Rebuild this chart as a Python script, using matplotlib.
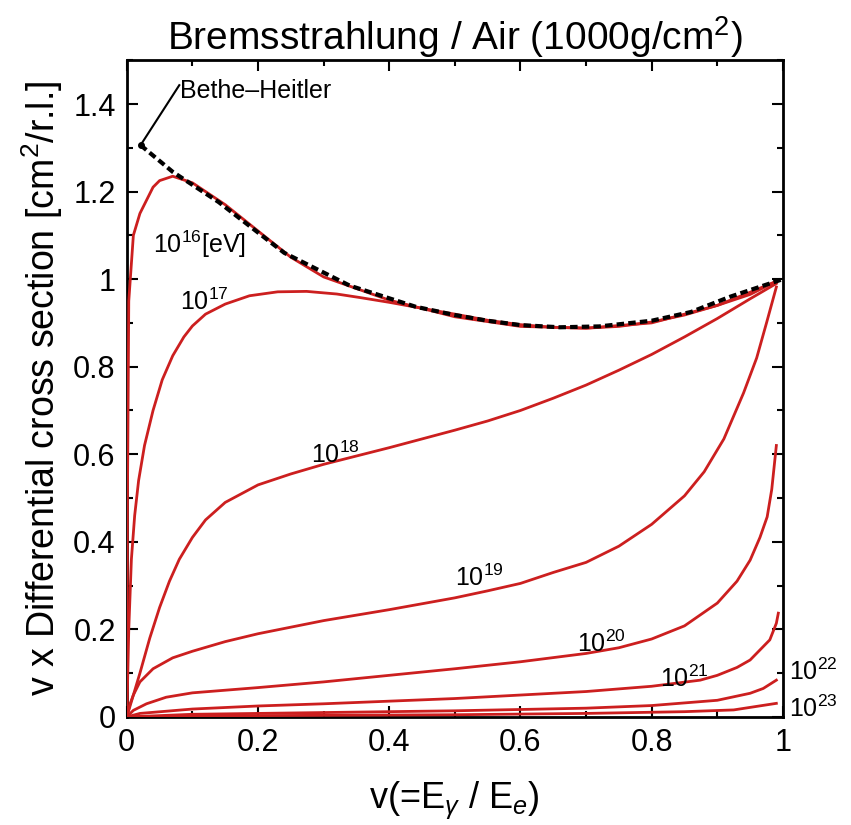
import matplotlib
matplotlib.use("Agg")
import matplotlib.pyplot as plt
from matplotlib.ticker import MultipleLocator

plt.rcParams['font.family'] = ['Liberation Sans', 'DejaVu Sans']
plt.rcParams['mathtext.fontset'] = 'custom'
plt.rcParams['mathtext.rm'] = 'Liberation Sans'
plt.rcParams['mathtext.it'] = 'Liberation Sans:italic'
plt.rcParams['mathtext.bf'] = 'Liberation Sans:bold'

# ---- data ----
bh_x = [0.021, 0.07, 0.14, 0.24, 0.34, 0.44, 0.50, 0.55, 0.60, 0.66, 0.72, 0.80, 0.86, 0.92, 0.96, 1.0]
bh_y = [1.306, 1.245, 1.176, 1.06, 0.985, 0.937, 0.918, 0.905, 0.895, 0.89, 0.892, 0.905, 0.925, 0.96, 0.98, 1.0]

e16_x = [0.0, 0.001, 0.003, 0.01, 0.02, 0.03, 0.04, 0.05, 0.07, 0.10, 0.15, 0.20, 0.25, 0.30, 0.40, 0.50, 0.60, 0.70, 0.80, 0.90, 0.95, 0.99]
e16_y = [0.0, 0.5, 0.95, 1.10, 1.15, 1.18, 1.21, 1.225, 1.235, 1.22, 1.17, 1.11, 1.05, 1.005, 0.952, 0.914, 0.892, 0.888, 0.90, 0.94, 0.97, 0.995]

e17_x = [0.0, 0.003, 0.007, 0.012, 0.018, 0.027, 0.04, 0.054, 0.07, 0.087, 0.10, 0.12, 0.15, 0.187, 0.23, 0.274,
         0.32, 0.355, 0.40, 0.455, 0.50, 0.55, 0.60, 0.65, 0.70, 0.75, 0.80, 0.85, 0.90, 0.95, 0.99]
e17_y = [0.0, 0.2, 0.36, 0.46, 0.54, 0.62, 0.70, 0.77, 0.825, 0.868, 0.893, 0.92, 0.943, 0.962, 0.971, 0.972,
         0.966, 0.958, 0.947, 0.932, 0.92, 0.906, 0.896, 0.89, 0.888, 0.892, 0.902, 0.918, 0.94, 0.965, 0.995]

e18_x = [0.0, 0.005, 0.01, 0.02, 0.035, 0.05, 0.065, 0.08, 0.10, 0.12, 0.15, 0.20, 0.25, 0.30, 0.35, 0.40,
         0.45, 0.50, 0.55, 0.60, 0.65, 0.70, 0.75, 0.80, 0.85, 0.90, 0.95, 0.99]
e18_y = [0.0, 0.025, 0.05, 0.10, 0.18, 0.25, 0.31, 0.36, 0.41, 0.45, 0.49, 0.53, 0.555, 0.577, 0.596, 0.615,
         0.635, 0.655, 0.676, 0.70, 0.728, 0.758, 0.792, 0.828, 0.868, 0.91, 0.955, 0.99]

e19_x = [0.0, 0.005, 0.01, 0.02, 0.04, 0.07, 0.10, 0.15, 0.20, 0.30, 0.40, 0.50, 0.55, 0.60, 0.65, 0.70,
         0.75, 0.80, 0.85, 0.88, 0.91, 0.94, 0.96, 0.975, 0.99]
e19_y = [0.0, 0.03, 0.05, 0.08, 0.11, 0.135, 0.15, 0.172, 0.19, 0.22, 0.245, 0.272, 0.288, 0.305, 0.33, 0.353,
         0.39, 0.44, 0.505, 0.56, 0.635, 0.74, 0.82, 0.90, 0.982]

e20_x = [0.0, 0.01, 0.03, 0.06, 0.10, 0.20, 0.30, 0.40, 0.50, 0.60, 0.70, 0.75, 0.80, 0.85, 0.90, 0.93,
         0.95, 0.965, 0.976, 0.983, 0.99]
e20_y = [0.0, 0.015, 0.03, 0.045, 0.055, 0.067, 0.08, 0.095, 0.11, 0.126, 0.145, 0.158, 0.178, 0.208, 0.26, 0.31,
         0.358, 0.41, 0.457, 0.52, 0.62]

e21_x = [0.0, 0.02, 0.10, 0.20, 0.30, 0.40, 0.50, 0.60, 0.70, 0.80, 0.874, 0.90, 0.93, 0.95, 0.98, 0.99, 0.993]
e21_y = [0.0, 0.008, 0.018, 0.025, 0.03, 0.036, 0.042, 0.05, 0.058, 0.07, 0.084, 0.095, 0.113, 0.13, 0.176, 0.214, 0.237]

e22_x = [0.0, 0.10, 0.30, 0.50, 0.70, 0.80, 0.90, 0.95, 0.97, 0.99]
e22_y = [0.0, 0.006, 0.010, 0.014, 0.020, 0.026, 0.038, 0.054, 0.065, 0.084]

e23_x = [0.0, 0.20, 0.50, 0.70, 0.85, 0.925, 0.99]
e23_y = [0.0, 0.003, 0.005, 0.008, 0.012, 0.016, 0.031]

curve_labels = [r"$10^{16}$[eV]", r"$10^{17}$", r"$10^{18}$", r"$10^{19}$",
                r"$10^{20}$", r"$10^{21}$", r"$10^{22}$", r"$10^{23}$"]
label_x = [0.040, 0.081, 0.28, 0.50, 0.686, 0.812, 1.01, 1.01]
label_y = [1.06, 0.93, 0.58, 0.30, 0.149, 0.068, 0.085, 0.0]

# ---- figure ----
fig = plt.figure(figsize=(8.51, 8.25), dpi=100)
ax = fig.add_axes([0.149, 0.131, 0.771, 0.796])

red = '#cc1f1f'
series = [(e23_x, e23_y), (e22_x, e22_y), (e21_x, e21_y), (e20_x, e20_y),
          (e19_x, e19_y), (e18_x, e18_y), (e17_x, e17_y), (e16_x, e16_y)]
for xs, ys in series:
    ax.plot(xs, ys, color=red, lw=2.0, solid_joinstyle='round', zorder=3)

ax.plot(bh_x, bh_y, color='black', lw=3.0, ls=(0, (1.8, 1.0)), zorder=4)
ax.plot([bh_x[0]], [bh_y[0]], marker='o', ms=4, color='black', zorder=5)
ax.plot([bh_x[0], 0.08], [bh_y[0], 1.443], color='black', lw=1.5, zorder=5)
ax.text(0.081, 1.413, "Bethe\u2013Heitler", fontsize=18, ha='left', va='baseline')

for t, x, y in zip(curve_labels, label_x, label_y):
    ax.text(x, y, t, fontsize=18, ha='left', va='baseline', clip_on=False)

ax.set_xlim(0, 1)
ax.set_ylim(0, 1.5)
ax.xaxis.set_minor_locator(MultipleLocator(0.1))
ax.yaxis.set_minor_locator(MultipleLocator(0.1))
ax.set_yticks([0, 0.2, 0.4, 0.6, 0.8, 1.0, 1.2, 1.4])
ax.set_yticklabels(["0", "0.2", "0.4", "0.6", "0.8", "1", "1.2", "1.4"])
ax.set_xticks([0, 0.2, 0.4, 0.6, 0.8, 1.0])
ax.set_xticklabels(["0", "0.2", "0.4", "0.6", "0.8", "1"])
ax.tick_params(which='both', direction='in', top=True, right=True, width=1.5)
ax.tick_params(which='major', length=8, labelsize=22, pad=8)
ax.tick_params(which='minor', length=4)
for s in ax.spines.values():
    s.set_linewidth(2)

ax.set_title(r"Bremsstrahlung / Air (1000g/cm$^2$)", fontsize=28, pad=6)
ax.set_ylabel(r"v x Differential cross section [cm$^2$/r.l.]", fontsize=27, labelpad=6)
ax.set_xlabel(r"v(=E$_\gamma$ / E$_e$)", fontsize=26, labelpad=16)

fig.savefig("out.png", dpi=100)
